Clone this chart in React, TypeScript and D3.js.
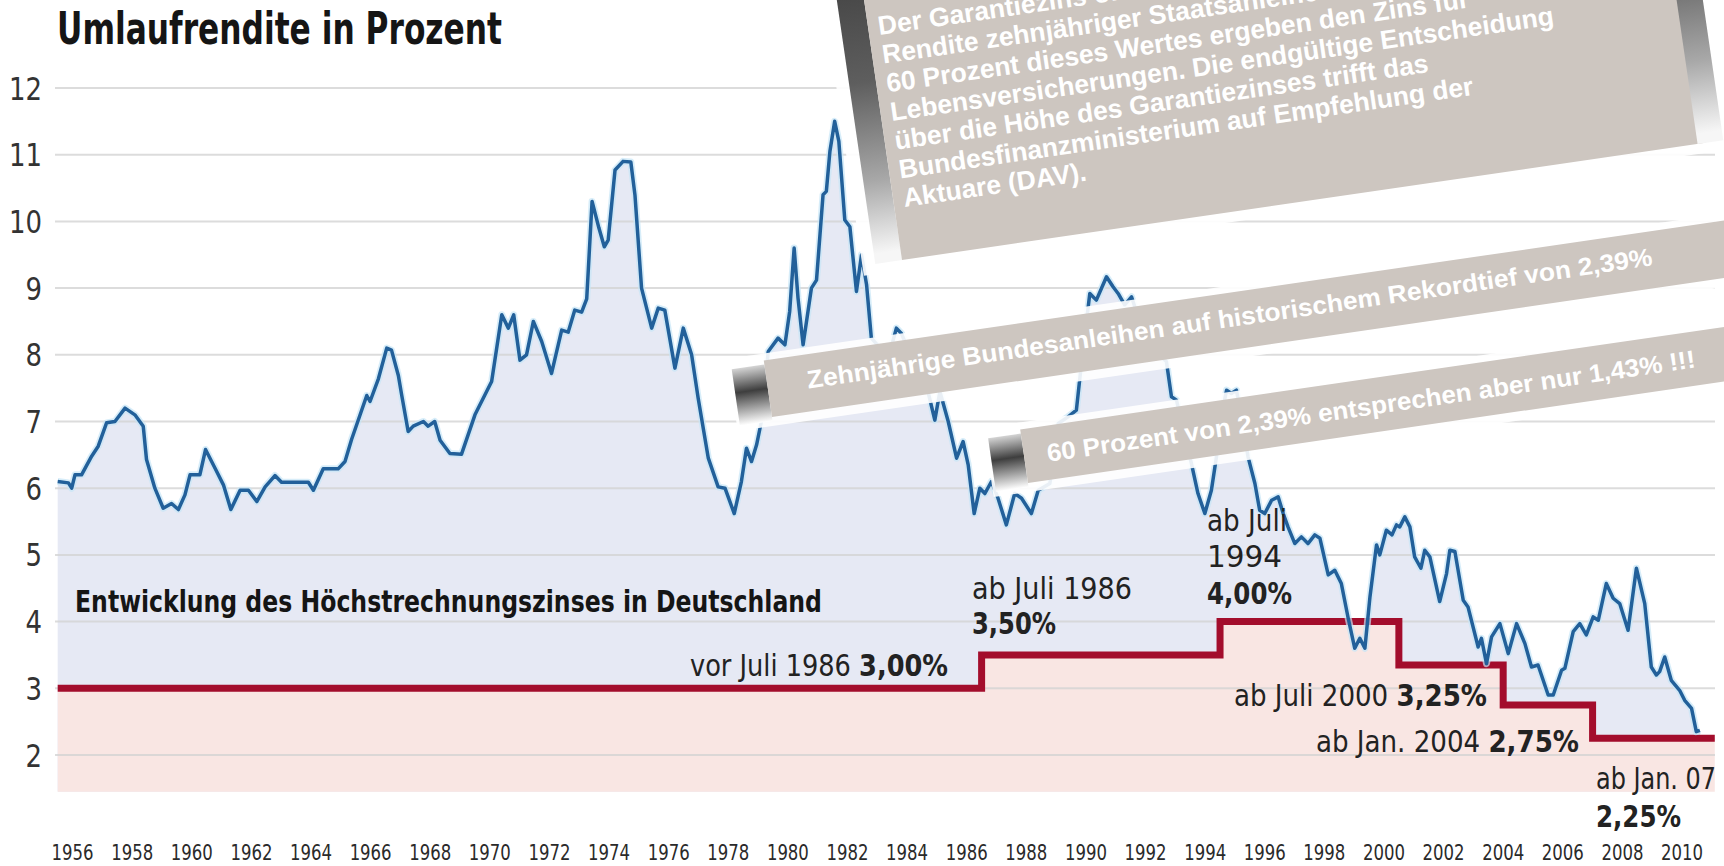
import { useEffect } from "react";
import * as d3 from "d3";

const width = 1724;
const height = 866;

// Umlaufrendite (Rendite zehnjähriger Bundesanleihen)
const rendite: [number, number][] = [
  [1955.5, 6.1], [1955.86, 6.08], [1955.97, 6.0], [1956.08, 6.2], [1956.3, 6.2], [1956.64, 6.48],
  [1956.86, 6.63], [1957.14, 6.98], [1957.42, 7.0], [1957.76, 7.2], [1958.09, 7.1], [1958.37, 6.93],
  [1958.48, 6.43], [1958.76, 6.0], [1959.04, 5.7], [1959.32, 5.77], [1959.55, 5.68], [1959.77, 5.9],
  [1959.94, 6.2], [1960.27, 6.2], [1960.46, 6.58], [1960.78, 6.3], [1961.06, 6.05], [1961.31, 5.68],
  [1961.62, 5.97], [1961.9, 5.97], [1962.18, 5.8], [1962.46, 6.02], [1962.79, 6.19], [1963.01, 6.09],
  [1963.91, 6.09], [1964.08, 5.97], [1964.41, 6.29], [1964.91, 6.29], [1965.14, 6.4], [1965.36, 6.73],
  [1965.87, 7.39], [1965.98, 7.3], [1966.26, 7.64], [1966.54, 8.1], [1966.7, 8.07], [1966.93, 7.69],
  [1967.04, 7.4], [1967.26, 6.85], [1967.43, 6.93], [1967.77, 7.0], [1967.93, 6.93], [1968.15, 7.0],
  [1968.33, 6.72], [1968.66, 6.52], [1969.05, 6.51], [1969.5, 7.1], [1970.06, 7.6], [1970.4, 8.6],
  [1970.62, 8.4], [1970.8, 8.6], [1971.01, 7.92], [1971.23, 8.0], [1971.46, 8.5], [1971.74, 8.2],
  [1972.07, 7.72], [1972.41, 8.37], [1972.63, 8.34], [1972.85, 8.67], [1973.08, 8.64], [1973.25, 8.84],
  [1973.43, 10.3], [1973.66, 9.9], [1973.84, 9.62], [1973.97, 9.72], [1974.2, 10.77], [1974.47, 10.9],
  [1974.73, 10.89], [1974.87, 10.39], [1975.09, 9.0], [1975.43, 8.4], [1975.65, 8.7], [1975.87, 8.67],
  [1976.21, 7.8], [1976.49, 8.4], [1976.77, 8.0], [1976.99, 7.35], [1977.33, 6.45], [1977.66, 6.02],
  [1977.89, 6.0], [1978.2, 5.62], [1978.44, 6.1], [1978.61, 6.6], [1978.78, 6.4], [1978.95, 6.65],
  [1979.11, 7.0], [1979.34, 8.05], [1979.67, 8.25], [1979.9, 8.15], [1980.06, 8.65], [1980.21, 9.6],
  [1980.34, 8.85], [1980.51, 8.15], [1980.79, 9.0], [1980.96, 9.12], [1981.18, 10.4], [1981.29, 10.45],
  [1981.41, 11.05], [1981.57, 11.5], [1981.71, 11.2], [1981.91, 10.02], [1982.08, 9.92], [1982.3, 8.95],
  [1982.47, 9.5], [1982.64, 9.05], [1982.8, 8.25], [1983.1, 8.1], [1983.4, 8.0], [1983.64, 8.4],
  [1983.81, 8.32], [1984.2, 7.9], [1984.7, 7.45], [1984.93, 7.02], [1985.1, 7.45], [1985.38, 7.0],
  [1985.66, 6.45], [1985.88, 6.7], [1986.05, 6.35], [1986.25, 5.62], [1986.44, 6.0], [1986.61, 5.92],
  [1986.83, 6.1], [1987.05, 5.85], [1987.33, 5.45], [1987.61, 5.92], [1987.84, 5.85], [1988.17, 5.62],
  [1988.4, 5.97], [1988.79, 6.07], [1989.07, 6.97], [1989.4, 7.07], [1989.68, 7.17], [1989.85, 7.87],
  [1990.13, 8.92], [1990.35, 8.82], [1990.69, 9.17], [1990.91, 9.02], [1991.08, 8.92], [1991.3, 8.75],
  [1991.53, 8.87], [1991.8, 8.5], [1992.2, 8.1], [1992.7, 7.9], [1992.87, 7.37], [1993.04, 7.32],
  [1993.3, 6.8], [1993.54, 6.37], [1993.76, 5.92], [1993.99, 5.62], [1994.21, 5.97], [1994.38, 6.47],
  [1994.55, 7.1], [1994.72, 7.47], [1994.88, 7.42], [1995.05, 7.47], [1995.25, 7.0], [1995.44, 6.47],
  [1995.67, 6.07], [1995.83, 5.67], [1996.0, 5.62], [1996.23, 5.82], [1996.45, 5.87], [1996.62, 5.62],
  [1996.78, 5.42], [1997.01, 5.17], [1997.23, 5.27], [1997.45, 5.17], [1997.68, 5.3], [1997.85, 5.25],
  [1998.13, 4.7], [1998.35, 4.77], [1998.57, 4.57], [1998.8, 4.05], [1999.02, 3.6], [1999.19, 3.75],
  [1999.36, 3.6], [1999.53, 4.37], [1999.75, 5.15], [1999.86, 5.0], [2000.08, 5.37], [2000.27, 5.3],
  [2000.42, 5.45], [2000.53, 5.42], [2000.7, 5.57], [2000.87, 5.42], [2001.03, 4.97], [2001.24, 4.8],
  [2001.37, 5.07], [2001.54, 4.97], [2001.87, 4.3], [2002.1, 4.72], [2002.21, 5.07], [2002.38, 5.05],
  [2002.66, 4.32], [2002.82, 4.22], [2003.16, 3.62], [2003.27, 3.75], [2003.44, 3.37], [2003.61, 3.77],
  [2003.89, 3.97], [2004.17, 3.52], [2004.45, 3.97], [2004.73, 3.67], [2004.95, 3.32], [2005.17, 3.35],
  [2005.51, 2.9], [2005.68, 2.9], [2005.96, 3.27], [2006.07, 3.3], [2006.35, 3.85], [2006.57, 3.97],
  [2006.79, 3.8], [2007.02, 4.07], [2007.19, 4.02], [2007.46, 4.57], [2007.69, 4.35], [2007.91, 4.27],
  [2008.19, 3.87], [2008.47, 4.8], [2008.75, 4.27], [2008.97, 3.32], [2009.14, 3.2], [2009.25, 3.25],
  [2009.42, 3.47], [2009.64, 3.12], [2009.92, 2.97], [2010.09, 2.82], [2010.32, 2.7], [2010.48, 2.35],
  [2010.6, 2.37],
];

// Höchstrechnungszins (Stufen)
const zinsFrom = [1955.5, 1986.5, 1994.5, 2000.5, 2004.0, 2007.0];
const zinsRate = [3.0, 3.5, 4.0, 3.35, 2.75, 2.25];
const zinsUntil = 2011.1;

const yTicks = [2, 3, 4, 5, 6, 7, 8, 9, 10, 11, 12];
const yearTicks = [
  1956, 1958, 1960, 1962, 1964, 1966, 1968, 1970, 1972, 1974, 1976, 1978, 1980, 1982,
  1984, 1986, 1988, 1990, 1992, 1994, 1996, 1998, 2000, 2002, 2004, 2006, 2008, 2010,
];
const areaFloor = 1.45;

const infoLines = [
  "Der Garantiezins orientiert sich an der",
  "Rendite zehnjähriger Staatsanleihen.",
  "60 Prozent dieses Wertes ergeben den Zins für",
  "Lebensversicherungen. Die endgültige Entscheidung",
  "über die Höhe des Garantiezinses trifft das",
  "Bundesfinanzministerium auf Empfehlung der",
  "Aktuare (DAV).",
];
const bannerTop = "Zehnjährige Bundesanleihen auf historischem Rekordtief von 2,39%";
const bannerBottom = "60 Prozent von 2,39% entsprechen aber nur 1,43% !!!";

const narrow = "'Liberation Sans Narrow', 'DejaVu Sans Condensed', 'Roboto Condensed', 'Liberation Sans', sans-serif";
const arial = "'Liberation Sans', Arial, sans-serif";
const beige = "#cdc6c0";
const tilt = -8.3;

const x = d3.scaleLinear().domain([1956, 2010]).range([72.6, 1682]);
const y = d3.scaleLinear().domain([2, 12]).range([755, 88]);

function Banner({ ox, oy, len, h, text, tx, ty, tlen }: any) {
  return (
    <g transform={`translate(${ox},${oy}) rotate(${tilt})`}>
      <rect x={-36} y={-h - 7} width={len + 36} height={h + 16} fill="#fff" opacity={0.9} />
      <rect x={-33} y={-h + 4} width={33} height={h} fill="url(#foldGrad)" />
      <rect x={0} y={-h} width={len} height={h} fill={beige} />
      <text x={tx} y={ty} fill="#fff" fontFamily={arial} fontWeight="bold" fontSize={25}
        textLength={tlen} lengthAdjust="spacingAndGlyphs">{text}</text>
    </g>
  );
}

export default function App() {
  useEffect(() => {
    document.body.style.margin = "0";
  }, []);

  const stepPts: [number, number][] = zinsFrom.map((f, i) => [f, zinsRate[i]]);
  stepPts.push([zinsUntil, zinsRate[zinsRate.length - 1]]);

  const lineGen = d3.line<[number, number]>().x((d) => x(d[0])).y((d) => y(d[1]));
  const areaGen = d3.area<[number, number]>().x((d) => x(d[0])).y0(y(areaFloor)).y1((d) => y(d[1]));
  const stepLine = d3.line<[number, number]>().x((d) => x(d[0])).y((d) => y(d[1])).curve(d3.curveStepAfter);
  const stepArea = d3.area<[number, number]>().x((d) => x(d[0])).y0(y(areaFloor)).y1((d) => y(d[1])).curve(d3.curveStepAfter);

  const ann = { fontFamily: narrow, fontSize: 30, fill: "#222" } as const;

  return (
    <svg width={width} height={height} style={{ display: "block", background: "#fff" }}>
      <defs>
        <linearGradient id="foldGrad" x1="0" y1="0" x2="0" y2="1">
          <stop offset="0%" stopColor="#d4d4d4" />
          <stop offset="42%" stopColor="#3e3e3e" />
          <stop offset="100%" stopColor="#ffffff" />
        </linearGradient>
        <linearGradient id="boxFold" x1="0" y1="0" x2="0" y2="1">
          <stop offset="0%" stopColor="#3a3a3a" />
          <stop offset="45%" stopColor="#5e5e5e" />
          <stop offset="75%" stopColor="#a8a8a8" />
          <stop offset="97%" stopColor="#f6f6f6" />
        </linearGradient>
      </defs>

      {/* Flächen */}
      <path d={areaGen(rendite)!} fill="#e6e9f4" />
      <path d={stepArea(stepPts)!} fill="#f9e6e3" />

      {/* Gitter + y-Achse */}
      {yTicks.map((t) => (
        <g key={t}>
          <line x1={55} x2={1715} y1={y(t)} y2={y(t)} stroke="#d4d4d4" strokeWidth={2} opacity={0.8} />
          <text x={42} y={y(t) + 11.5} textAnchor="end" fontFamily={narrow} fontSize={32} fill="#333"
            textLength={t >= 10 ? 33 : 16.5} lengthAdjust="spacingAndGlyphs">{t}</text>
        </g>
      ))}

      {/* x-Achse */}
      {yearTicks.map((t) => (
        <text key={t} x={x(t)} y={860} textAnchor="middle" fontFamily={narrow} fontSize={21} fill="#2a2a2a"
          textLength={42} lengthAdjust="spacingAndGlyphs">{t}</text>
      ))}

      {/* Linien */}
      <path d={stepLine(stepPts)!} fill="none" stroke="#a30d2c" strokeWidth={7} />
      <path d={lineGen(rendite)!} fill="none" stroke="#c6e6f6" strokeWidth={7} opacity={0.7} strokeLinejoin="round" />
      <path d={lineGen(rendite)!} fill="none" stroke="#22609a" strokeWidth={3.5} strokeLinejoin="round" />

      {/* Titel und Beschriftungen */}
      <text x={57} y={44} fontFamily={narrow} fontWeight="bold" fontSize={44} fill="#151515"
        textLength={445} lengthAdjust="spacingAndGlyphs">Umlaufrendite in Prozent</text>
      <text x={75} y={612} fontFamily={narrow} fontWeight="bold" fontSize={30} fill="#151515"
        textLength={747} lengthAdjust="spacingAndGlyphs">Entwicklung des Höchstrechnungszinses in Deutschland</text>

      <text x={690} y={676} {...ann} textLength={258} lengthAdjust="spacingAndGlyphs">
        vor Juli 1986 <tspan fontWeight="bold">3,00%</tspan>
      </text>
      <text x={972} y={599} {...ann} textLength={160} lengthAdjust="spacingAndGlyphs">ab Juli 1986</text>
      <text x={972} y={634} {...ann} fontWeight="bold" textLength={84} lengthAdjust="spacingAndGlyphs">3,50%</text>
      <text x={1207} y={531} {...ann} textLength={80} lengthAdjust="spacingAndGlyphs">ab Juli</text>
      <text x={1207} y={567} {...ann} textLength={75} lengthAdjust="spacingAndGlyphs">1994</text>
      <text x={1207} y={604} {...ann} fontWeight="bold" textLength={85} lengthAdjust="spacingAndGlyphs">4,00%</text>
      <text x={1234} y={706} {...ann} textLength={253} lengthAdjust="spacingAndGlyphs">
        ab Juli 2000 <tspan fontWeight="bold">3,25%</tspan>
      </text>
      <text x={1316} y={752} {...ann} textLength={263} lengthAdjust="spacingAndGlyphs">
        ab Jan. 2004 <tspan fontWeight="bold">2,75%</tspan>
      </text>
      <text x={1596} y={789} {...ann} textLength={120} lengthAdjust="spacingAndGlyphs">ab Jan. 07</text>
      <text x={1596} y={827} {...ann} fontWeight="bold" textLength={85} lengthAdjust="spacingAndGlyphs">2,25%</text>

      {/* Aufgeklebte Infobox */}
      <g transform={`translate(902,260) rotate(${tilt})`}>
        <rect x={-40} y={-340} width={885} height={350} fill="#fff" opacity={0.9} />
        <rect x={-27} y={-330} width={27} height={330} fill="url(#boxFold)" />
        <rect x={0} y={-330} width={812} height={330} fill={beige} />
        <rect x={804} y={-330} width={26} height={330} fill="url(#boxFold)" />
        {infoLines.map((l, i) => (
          <text key={i} x={10} y={-226 + i * 29} fill="#fff" fontFamily={arial} fontWeight="bold" fontSize={26.5}>
            {l}
          </text>
        ))}
      </g>

      <Banner ox={772} oy={417} len={1000} h={57} text={bannerTop} tx={40} ty={-23} tlen={854} />
      <Banner ox={1028} oy={483} len={760} h={54} text={bannerBottom} tx={23} ty={-18} tlen={655} />
    </svg>
  );
}
